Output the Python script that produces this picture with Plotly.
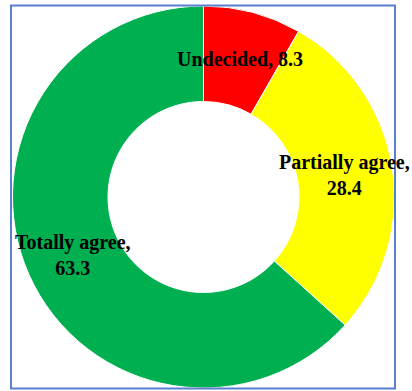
import math
import plotly.graph_objects as go

labels = ["Undecided", "Partially agree", "Totally agree"]
values = [8.3, 28.4, 63.3]
colors = ["#FF0000", "#FFFF00", "#00B050"]
text_labels = ["Undecided, 8.3", "Partially agree,<br>28.4", "Totally agree,<br>63.3"]

W, H = 412, 391
HOLE = 0.5
dom_x = [12 / W, 395 / W]
dom_y = [1 - 388 / H, 1 - 6 / H]

fig = go.Figure(go.Pie(
    labels=labels,
    values=values,
    textinfo="none",
    hole=HOLE,
    sort=False,
    direction="clockwise",
    rotation=0,
    marker=dict(colors=colors, line=dict(color="#ffffff", width=1)),
    domain=dict(x=dom_x, y=dom_y),
    showlegend=False,
    hoverinfo="label+value",
))

# label positions at the middle of each slice (angular and radial)
cx = (dom_x[0] + dom_x[1]) / 2 * W
cy = (1 - (dom_y[0] + dom_y[1]) / 2) * H
R = min((dom_x[1] - dom_x[0]) * W, (dom_y[1] - dom_y[0]) * H) / 2
rmid = R * (1 + HOLE) / 2
total = sum(values)
annotations = []
cum = 0.0
for v, t in zip(values, text_labels):
    ang = 2 * math.pi * (cum + v / 2) / total
    cum += v
    px = cx + rmid * math.sin(ang)
    py = cy - rmid * math.cos(ang)
    annotations.append(dict(
        x=px / W, y=1 - py / H, xref="paper", yref="paper",
        text="<b>" + t + "</b>", showarrow=False,
        xanchor="center", yanchor="middle",
        font=dict(family="Liberation Serif", size=20, color="#000000"),
    ))

fig.update_layout(
    width=W, height=H,
    margin=dict(l=0, r=0, t=0, b=0),
    paper_bgcolor="#ffffff",
    plot_bgcolor="#ffffff",
    font=dict(family="Liberation Serif", size=20, color="#000000"),
    annotations=annotations,
    shapes=[dict(
        type="rect", xref="paper", yref="paper",
        x0=11 / W, x1=395 / W, y0=1 - 388.5 / H, y1=1 - 5.5 / H,
        line=dict(color="#5B7FCF", width=2), fillcolor="rgba(0,0,0,0)",
        layer="above",
    )],
)

fig.write_html("out.html")
